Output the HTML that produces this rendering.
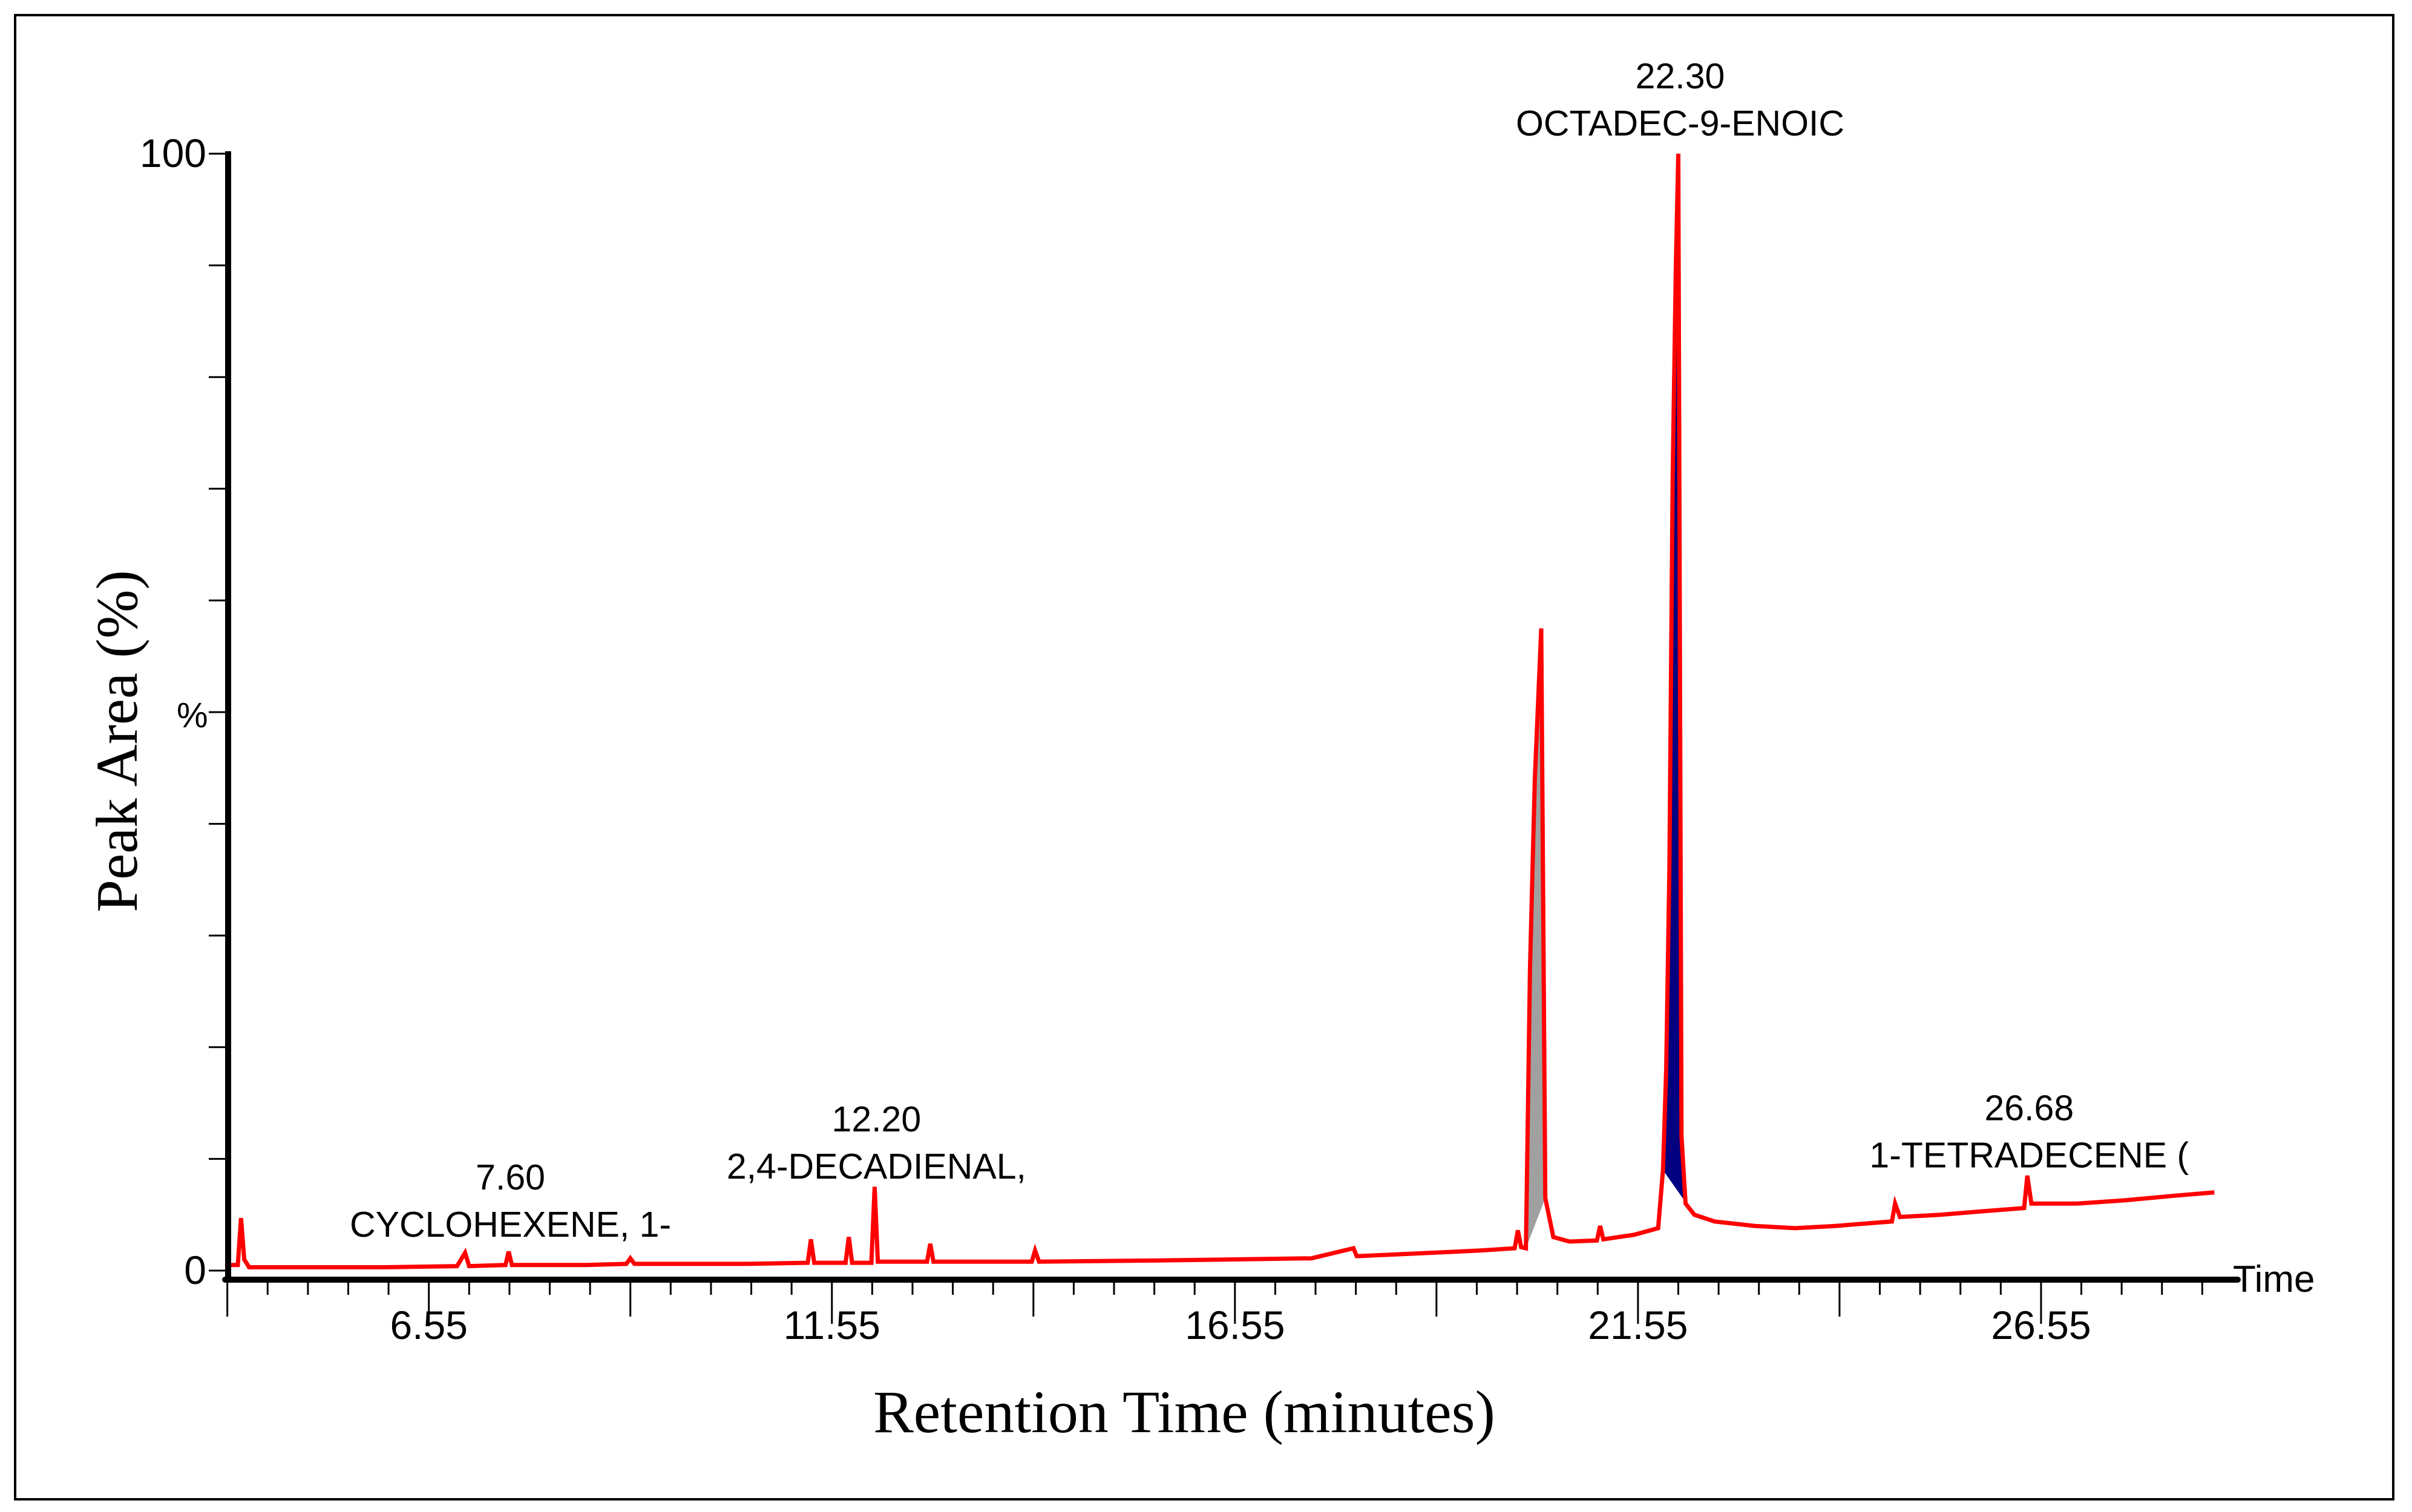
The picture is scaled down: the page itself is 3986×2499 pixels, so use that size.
<!DOCTYPE html>
<html>
<head>
<meta charset="utf-8">
<style>
  html, body { margin: 0; padding: 0; background: #fff; }
  svg { display: block; }
  text { font-family: "Liberation Sans", Arial, sans-serif; fill: #000; }
  .serif { font-family: "Liberation Serif", "Times New Roman", serif; }
</style>
</head>
<body>
<svg id="chart" width="3986" height="2499" viewBox="0 0 3986 2499" xmlns="http://www.w3.org/2000/svg">
  <rect x="25" y="25" width="3930" height="2453" fill="#fff" stroke="#000" stroke-width="4"/>
  <g id="fills"></g>
  <g id="series"></g>
  <g id="axes"></g>
  <g id="labels"></g>
  <text class="serif" x="1957" y="2367" font-size="100" text-anchor="middle">Retention Time (minutes)</text>
  <text class="serif" x="0" y="0" font-size="97" text-anchor="middle" transform="translate(226,1225) rotate(-90)">Peak Area (%)</text>
  <text x="3690" y="2135" font-size="62">Time</text>
  <text x="292" y="1202" font-size="58">%</text>
</svg>
<script>
// ---- data ----
const times = [4.06,4.18,4.22,4.26,4.32,5.0,6.0,6.9,7.0,7.05,7.5,7.54,7.58,8.5,9.0,9.05,9.1,10.5,11.25,11.29,11.33,11.72,11.76,11.8,12.04,12.08,12.12,12.73,12.77,12.81,14.03,14.07,14.12,15.5,16.55,17.5,18.02,18.06,18.1,19.0,19.6,20.02,20.06,20.1,20.16,20.21,20.27,20.35,20.4,20.5,20.7,21.04,21.08,21.12,21.5,21.8,21.86,21.90,21.94,21.98,22.02,22.05,22.09,22.14,22.25,22.5,23.0,23.5,24.0,24.7,24.74,24.8,25.3,25.8,26.34,26.38,26.43,27.0,27.6,28.2,28.7];
const values = [0.5,0.5,4.7,1.0,0.3,0.3,0.3,0.4,1.6,0.4,0.5,1.7,0.5,0.5,0.6,1.1,0.6,0.6,0.7,2.8,0.7,0.7,3.0,0.7,0.7,7.5,0.8,0.8,2.4,0.8,0.8,1.8,0.8,0.9,1.0,1.1,2.0,1.3,1.3,1.6,1.8,2.0,3.6,2.1,2.0,27,44,57.5,6.5,3.0,2.6,2.7,4.0,2.8,3.2,3.8,9,18,36,71,90,100,12,6,5,4.4,4.0,3.8,4.0,4.4,6.0,4.8,5.0,5.3,5.6,8.5,6.0,6.0,6.3,6.7,7.0];
const xTickLabels = ["6.55","11.55","16.55","21.55","26.55"];
const xTickValues = [6.55,11.55,16.55,21.55,26.55];
const yTickLabels = ["0","100"];
const yTickValues = [0,100];
const peakLabelTimes = [7.54,12.08,22.05,26.38];
const peakLabelRt = ["7.60","12.20","22.30","26.68"];
const peakLabelNames = ["CYCLOHEXENE, 1-","2,4-DECADIENAL,","OCTADEC-9-ENOIC","1-TETRADECENE ("];
const peakLabelLevels = [1.4,6.6,100,7.6];
const grayRange = [20.16,20.45];
const navyRange = [21.84,22.45];

// ---- scales ----
const X0 = 377, X1 = 3698, T0 = 4.06, T1 = 28.99;
const Y0 = 2100, Y100 = 254;
function xs(t){ return X0 + (t - T0) / (T1 - T0) * (X1 - X0); }
function ys(v){ return Y0 - v / 100 * (Y0 - Y100); }
const NS = "http://www.w3.org/2000/svg";
function mk(tag, attrs, parent){
  const e = document.createElementNS(NS, tag);
  for (const k in attrs) e.setAttribute(k, attrs[k]);
  parent.appendChild(e);
  return e;
}

// ---- fills ----
const fills = document.getElementById('fills');
function fillRange(r, color, name){
  let pts = [];
  for (let i = 0; i < times.length; i++) if (times[i] >= r[0] && times[i] <= r[1]) pts.push([times[i], values[i]]);
  const base = (t) => {
    const a = pts[0], b = pts[pts.length-1];
    return a[1] + (b[1]-a[1]) * (t-a[0])/(b[0]-a[0]);
  };
  let d = pts.map((p,i)=> (i?'L':'M') + xs(p[0]).toFixed(1) + ',' + ys(p[1]).toFixed(1)).join(' ');
  d += ' L' + xs(pts[pts.length-1][0]).toFixed(1) + ',' + ys(base(pts[pts.length-1][0])).toFixed(1);
  d += ' L' + xs(pts[0][0]).toFixed(1) + ',' + ys(base(pts[0][0])).toFixed(1) + ' Z';
  const p = mk('path', {d: d, fill: color, stroke: 'none'}, fills);
  
  
}
fillRange(grayRange, '#a0a0a0', 'peak-fill-20-35');
fillRange(navyRange, '#000080', 'peak-fill-22-30');

// ---- trace ----
const series = document.getElementById('series');
const d = times.map((t,i)=> (i?'L':'M') + xs(t).toFixed(1) + ',' + ys(values[i]).toFixed(1)).join(' ');
const line = mk('path', {d: d, fill: 'none', stroke: '#ff0000', 'stroke-width': 7, 'stroke-linejoin': 'miter'}, series);



// ---- axes ----
const axes = document.getElementById('axes');
const yAxis = mk('line', {x1: X0, y1: Y100 - 4, x2: X0, y2: 2120, stroke: '#000', 'stroke-width': 10}, axes);


const xAxis = mk('line', {x1: X0 - 5, y1: 2115, x2: X1, y2: 2115, stroke: '#000', 'stroke-width': 10, 'stroke-linecap': 'round'}, axes);


for (let k = 0; k <= 10; k++){
  const yy = ys(k * 10);
  const t = mk('line', {x1: X0 - 32, y1: yy, x2: X0, y2: yy, stroke: '#000', 'stroke-width': 3}, axes);
  
  
}
yTickValues.forEach((v,i)=>{
  const t = mk('text', {x: X0 - 36, y: ys(v) + 22, 'font-size': 66, 'text-anchor': 'end'}, axes);
  t.textContent = yTickLabels[i];
  
  
});
for (let t = 4.05; t <= T1 + 0.01; t += 0.5){
  const rel = Math.round((t - 6.55) / 0.5);
  let len = 22;
  if (rel % 10 === 0) len = 70; else if (rel % 5 === 0) len = 58;
  const xx = xs(t);
  const tk = mk('line', {x1: xx, y1: 2118, x2: xx, y2: 2118 + len, stroke: '#000', 'stroke-width': 3}, axes);
  
  
}
xTickValues.forEach((v,i)=>{
  const t = mk('text', {x: xs(v), y: 2213, 'font-size': 66, 'text-anchor': 'middle'}, axes);
  t.textContent = xTickLabels[i];
  
  
});

// ---- peak labels ----
const labels = document.getElementById('labels');
peakLabelTimes.forEach((t,i)=>{
  const yTop = ys(peakLabelLevels[i]) - 20;
  const a = mk('text', {x: xs(t) + 3, y: yTop - 88, 'font-size': 59, 'text-anchor': 'middle'}, labels);
  a.textContent = peakLabelRt[i];
  
  
  const b = mk('text', {x: xs(t) + 3, y: yTop - 10, 'font-size': 59, 'text-anchor': 'middle'}, labels);
  b.textContent = peakLabelNames[i];
  
  
});
</script>
</body>
</html>
